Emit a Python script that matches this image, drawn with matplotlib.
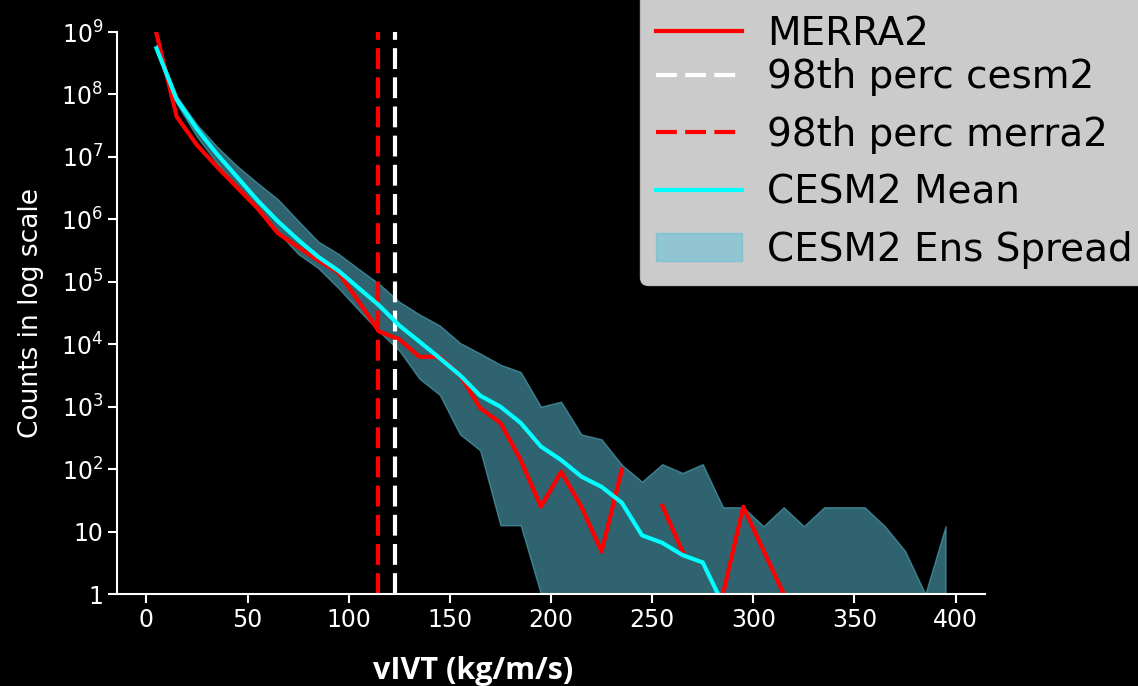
import numpy as np
import matplotlib
matplotlib.use("Agg")
import matplotlib.pyplot as plt
from matplotlib.ticker import FixedLocator, FixedFormatter, NullLocator
from matplotlib.transforms import Affine2D

plt.rcParams["font.family"] = ["DejaVu Sans"]
plt.rcParams["mathtext.fontset"] = "dejavusans"

nan = np.nan

# bin centres of vIVT (kg/m/s)
vivt_bins = [5, 15, 25, 35, 45, 55, 65, 75, 85, 95,
             105, 115, 125, 135, 145, 155, 165, 175, 185, 195,
             205, 215, 225, 235, 245, 255, 265, 275, 285, 295,
             305, 315, 325, 335, 345, 355, 365, 375, 385, 395]

merra2_counts = [9.5e8, 4.4e7, 1.55e7, 6.9e6, 3.2e6, 1.5e6, 6.0e5, 3.6e5, 2.2e5, 1.4e5,
                 4.8e4, 1.6e4, 1.2e4, 6.3e3, 6.3e3, 3.2e3, 950, 550, 140, 25,
                 91, 25, 4.8, 98, nan, 26, 4.8, nan, 1.0, 25,
                 5.0, 1.0, nan, nan, nan, nan, nan, nan, nan, nan]

cesm2_mean = [5.5e8, 8.3e7, 2.8e7, 1.1e7, 4.7e6, 2.0e6, 9.3e5, 4.7e5, 2.5e5, 1.5e5,
              7.9e4, 4.2e4, 2.0e4, 1.1e4, 6.0e3, 3.2e3, 1.5e3, 1.0e3, 550, 230,
              140, 76, 52, 29, 8.7, 6.6, 4.2, 3.2, 0.68, 0.6,
              0.3, 0.6, 0.3, 0.6, 0.6, 0.6, 0.3, 0.1, 0.02, 0.3]

cesm2_max = [6.3e8, 9.5e7, 3.3e7, 1.45e7, 7.1e6, 3.8e6, 2.1e6, 9.5e5, 4.4e5, 2.8e5,
             1.6e5, 9.3e4, 4.8e4, 3.0e4, 2.0e4, 1.05e4, 7.1e3, 4.7e3, 3.6e3, 1.0e3,
             1.2e3, 360, 300, 117, 63, 120, 87, 120, 24.5, 24.5,
             12.2, 24.5, 12.2, 24.5, 24.5, 24.5, 12.2, 4.9, 1.0, 12.2]

cesm2_min = [5.0e8, 7.1e7, 2.1e7, 7.9e6, 3.2e6, 1.4e6, 6.3e5, 2.8e5, 1.65e5, 7.9e4,
             3.5e4, 1.6e4, 7.9e3, 2.8e3, 1.55e3, 360, 200, 12.6, 12.6, 1.0,
             1.0, 1.0, 1.0, 1.0, 1.0, 1.0, 1.0, 1.0, 1.0, 1.0,
             1.0, 1.0, 1.0, 1.0, 1.0, 1.0, 1.0, 1.0, 1.0, 1.0]

perc98_cesm2 = 122.7
perc98_merra2 = 114.3

xtick_values = [0, 50, 100, 150, 200, 250, 300, 350, 400]
ytick_values = [1, 10, 1e2, 1e3, 1e4, 1e5, 1e6, 1e7, 1e8, 1e9]
ytick_labels = ["1", "10"] + [r"$\mathdefault{10^{%d}}$" % k for k in range(2, 10)]

legend_labels = ["MERRA2", "98th perc cesm2", "98th perc merra2",
                 "CESM2 Mean", "CESM2 Ens Spread"]

W, H = 1138, 686
fig = plt.figure(figsize=(W / 100, H / 100), dpi=100, facecolor="black")
ax = fig.add_axes([117 / W, (H - 594) / H, (985 - 117) / W, (594 - 32) / H])
ax.set_facecolor("black")

h1, = ax.plot(vivt_bins, merra2_counts, color="red", lw=3)
h2 = ax.axvline(perc98_cesm2, color="white", lw=3, ls=(0, (5, 2)))
h3 = ax.axvline(perc98_merra2, color="red", lw=3, ls=(0, (5, 2)))
h4, = ax.plot(vivt_bins, cesm2_mean, color="cyan", lw=3)
h5 = ax.fill_between(vivt_bins, cesm2_min, cesm2_max, color="#5ac0d7", alpha=0.52)

ax.set_yscale("log")
ax.set_ylim(1, 1e9)
ax.set_xlim(-14.5, 414.5)
ax.yaxis.set_major_locator(FixedLocator(ytick_values))
ax.yaxis.set_major_formatter(FixedFormatter(ytick_labels))
ax.yaxis.set_minor_locator(NullLocator())
ax.xaxis.set_major_locator(FixedLocator(xtick_values))

for s in ["top", "right"]:
    ax.spines[s].set_visible(False)
for s in ["left", "bottom"]:
    ax.spines[s].set_color("white")
    ax.spines[s].set_linewidth(1.5)
ax.tick_params(colors="white", labelsize=17, width=1.5, length=6.5)

ax.set_ylabel("Counts in log scale", color="white", fontsize=19)
ax.yaxis.set_label_coords(-0.084, 0.5)

fig.text(473 / W, 7 / H, "vIVT (kg/m/s)", color="white", fontsize=22,
         fontweight="bold", family=["Open Sans", "DejaVu Sans"],
         ha="center", va="baseline")

leg = ax.legend([h1, h2, h3, h4, h5], legend_labels, loc="lower left",
                bbox_to_anchor=(640 / W, (H - 285) / H), bbox_transform=fig.transFigure,
                fontsize=28, handlelength=2.2, handletextpad=0.65, borderpad=0.42,
                borderaxespad=0, framealpha=0.8, facecolor="white", edgecolor="0.8")

# first legend row sits a little closer to the second one in the reference
shift = Affine2D().translate(0, -14)
first_text = leg.get_texts()[0]
first_text.set_transform(first_text.get_transform() + shift)
first_handle = leg.legend_handles[0]
first_handle.set_transform(first_handle.get_transform() + shift)

fig.savefig("out.png", dpi=100, facecolor="black")
